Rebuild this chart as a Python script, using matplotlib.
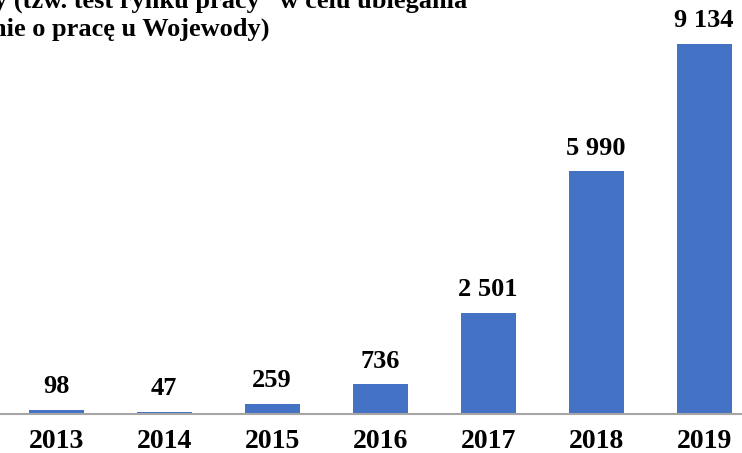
import matplotlib.pyplot as plt

# dane z wykresu
lata = ['2013', '2014', '2015', '2016', '2017', '2018', '2019']
wartosci = [98, 47, 259, 736, 2501, 5990, 9134]
etykiety = ['98', '47', '259', '736', '2 501', '5 990', '9 134']

tytul_1 = 'y (tzw. test rynku pracy” w celu ubiegania'
tytul_2 = 'nie o pracę u Wojewody)'

plt.rcParams['font.family'] = ['Liberation Serif', 'DejaVu Serif']

fig = plt.figure(figsize=(7.42, 4.53), dpi=100)
ax = fig.add_axes([0.0, 39 / 453, 1.0, 414 / 453])

x = list(range(len(lata)))
ax.bar(x, wartosci, width=0.51, color='#4472C4', zorder=2)

ax.set_xlim(-0.52, 6.35)
ax.set_ylim(0, 9134 * 414 / 370)

for xi, v, t in zip(x, wartosci, etykiety):
    ax.annotate(t, (xi, v), xytext=(0, 12), textcoords='offset points',
                ha='center', va='baseline', fontsize=19, fontweight='bold')

ax.set_xticks(x)
ax.set_xticklabels(lata, fontsize=20, fontweight='bold')
ax.tick_params(axis='x', length=0, pad=11)
ax.set_yticks([])

for s in ['top', 'left', 'right']:
    ax.spines[s].set_visible(False)
ax.spines['bottom'].set_color('#A6A6A6')
ax.spines['bottom'].set_linewidth(1.5)
ax.patch.set_alpha(0)

fig.text(467 / 742, 1 - 8 / 453, tytul_1, ha='right', va='baseline',
         fontsize=19, fontweight='bold')
fig.text(270 / 742, 1 - 36 / 453, tytul_2, ha='right', va='baseline',
         fontsize=19, fontweight='bold')

fig.savefig('out.png', dpi=100)
